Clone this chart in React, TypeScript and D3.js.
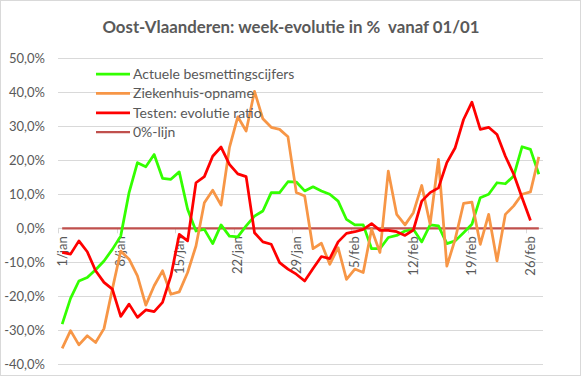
import React from "react";
import * as d3 from "d3";

const TITLE = "Oost-Vlaanderen: week-evolutie in %  vanaf 01/01";

// 58 daily categories: 1 jan .. 27 feb
const categories: string[] = [
  ...d3.range(1, 32).map((d) => `${d}/jan`),
  ...d3.range(1, 28).map((d) => `${d}/feb`),
];
const tickLabels = ["1/jan", "8/jan", "15/jan", "22/jan", "29/jan", "5/feb", "12/feb", "19/feb", "26/feb"];
const yTicks = [-0.4, -0.3, -0.2, -0.1, 0, 0.1, 0.2, 0.3, 0.4, 0.5];

const besmettingen = [
  -28.2, -20.6, -15.5, -14.5, -12.2, -9.6, -6.2, -2.3, 10.5, 19.3,
  18.1, 21.7, 14.7, 14.4, 16.6, 5.6, -0.8, -0.3, -4.5, 1.0,
  -2.3, -2.5, 0.7, 3.6, 5.1, 10.5, 10.5, 13.7, 13.6, 11.0,
  12.2, 11.0, 10.0, 8.0, 2.6, 1.0, 1.0, -6.0, -6.0, -2.7,
  -2.1, -0.8, -0.3, -4.0, 1.0, 0.7, -4.5, -3.7, -1.3, 1.2,
  9.0, 10.0, 13.4, 13.1, 15.4, 24.0, 23.2, 15.9,
];

const ziekenhuis = [
  -35.3, -30.1, -34.3, -31.6, -33.6, -29.5, -17.9, -6.7, -9.1, -14.0,
  -22.6, -16.9, -12.5, -19.4, -18.7, -13.0, -5.2, 7.5, 11.2, 6.8,
  23.7, 32.8, 28.6, 40.3, 32.2, 29.7, 29.1, 26.9, 10.5, 9.5,
  -6.0, -4.4, -10.6, -5.7, -15.0, -12.0, -13.0, -0.3, -7.1, 16.8,
  4.1, 1.0, 4.6, 12.6, 1.2, 20.3, -11.1, -3.2, 7.3, 7.7,
  -4.7, 4.1, -9.6, 4.1, 6.6, 10.0, 10.7, 21.0,
];

const testen = [
  -7.1, -7.6, -3.7, -6.9, -12.5, -15.9, -17.9, -25.9, -22.3, -26.2,
  -24.0, -24.5, -21.8, -14.0, -1.8, -3.7, 13.4, 15.2, 21.2, 23.9,
  18.8, 16.0, 15.2, -1.3, -4.0, -4.7, -10.1, -12.0, -13.5, -15.5,
  -11.8, -8.3, -8.9, -4.0, -1.5, -1.0, -0.3, 1.4, -0.6, -0.6,
  -1.0, -2.1, -0.5, 8.0, 10.5, 11.9, 19.3, 23.7, 32.0, 37.1,
  29.1, 29.7, 27.6, 21.2, 15.9, 9.0, 2.3,
];

const nulLijn = categories.map(() => 0);

const seriesNames = ["Actuele besmettingscijfers", "Ziekenhuis-opname", "Testen: evolutie ratio", "0%-lijn"];
const seriesColors = ["#33ff00", "#f79646", "#ff0000", "#c0504d"];

const W = 581;
const H = 376;
const FONT = "Lato, 'Open Sans', sans-serif";

export default function App() {
  const x = d3.scalePoint<string>().domain(categories).range([58, 543]).padding(0.5);
  const step = x.step();
  const y = d3.scaleLinear().domain([-0.4, 0.5]).range([364.3, 58.3]);

  const line = d3
    .line<number>()
    .x((_, i) => x(categories[i]) as number)
    .y((v) => y(v / 100));

  const series = [besmettingen, ziekenhuis, testen];

  const fmt = (v: number) => (v * 100).toFixed(1).replace(".", ",") + "%";

  return (
    <div style={{ position: "fixed", left: 0, top: 0 }}>
      <svg width={W} height={H} style={{ display: "block", fontFamily: FONT }}>
        <rect x={0} y={0} width={W} height={H} fill="#fff" />
        <rect x={0.5} y={0.5} width={W - 1} height={H - 1} fill="none" stroke="#d9d9d9" />
        <text x={291} y={33} textAnchor="middle" fontSize={16.8} fontWeight="bold" fill="#595959" style={{ whiteSpace: "pre" }}>
          {TITLE}
        </text>
        {/* gridlines */}
        {yTicks.map((t) => (
          <line key={t} x1={58} x2={543} y1={Math.round(y(t)) + 0.5} y2={Math.round(y(t)) + 0.5} stroke="#d9d9d9" strokeWidth={1} />
        ))}
        {yTicks.map((t) => (
          <text key={"l" + t} x={45} y={y(t)} dy="0.35em" textAnchor="end" fontSize={13} fill="#595959">
            {fmt(t)}
          </text>
        ))}
        {/* x axis line and ticks */}
        <line x1={58} x2={543} y1={y(0)} y2={y(0)} stroke="#d9d9d9" strokeWidth={1} />
        {d3.range(0, categories.length + 1, 7).map((i) => {
          const xx = Math.round(58 + i * step) + 0.5;
          return <line key={"t" + i} x1={xx} x2={xx} y1={y(0)} y2={y(0) + 5} stroke="#d9d9d9" />;
        })}
        {tickLabels.map((lab) => (
          <text
            key={lab}
            transform={`translate(${x(lab)},${y(0) + 8}) rotate(-90)`}
            dy="0.35em"
            textAnchor="end"
            fontSize={13}
            fill="#595959"
          >
            {lab}
          </text>
        ))}
        {/* series */}
        <path d={line(nulLijn) || ""} fill="none" stroke={seriesColors[3]} strokeWidth={2.25} />
        {series.map((s, k) => (
          <path key={k} d={line(s) || ""} fill="none" stroke={seriesColors[k]} strokeWidth={2.75} strokeLinejoin="round" />
        ))}
        {/* legend */}
        {seriesNames.map((n, k) => {
          const ly = 74 + k * 19.4;
          return (
            <g key={n}>
              <line x1={96} x2={130} y1={ly} y2={ly} stroke={seriesColors[k]} strokeWidth={k === 3 ? 2.25 : 2.75} />
              <text x={133} y={ly} dy="0.35em" fontSize={14} fill="#595959">
                {n}
              </text>
            </g>
          );
        })}
      </svg>
    </div>
  );
}
